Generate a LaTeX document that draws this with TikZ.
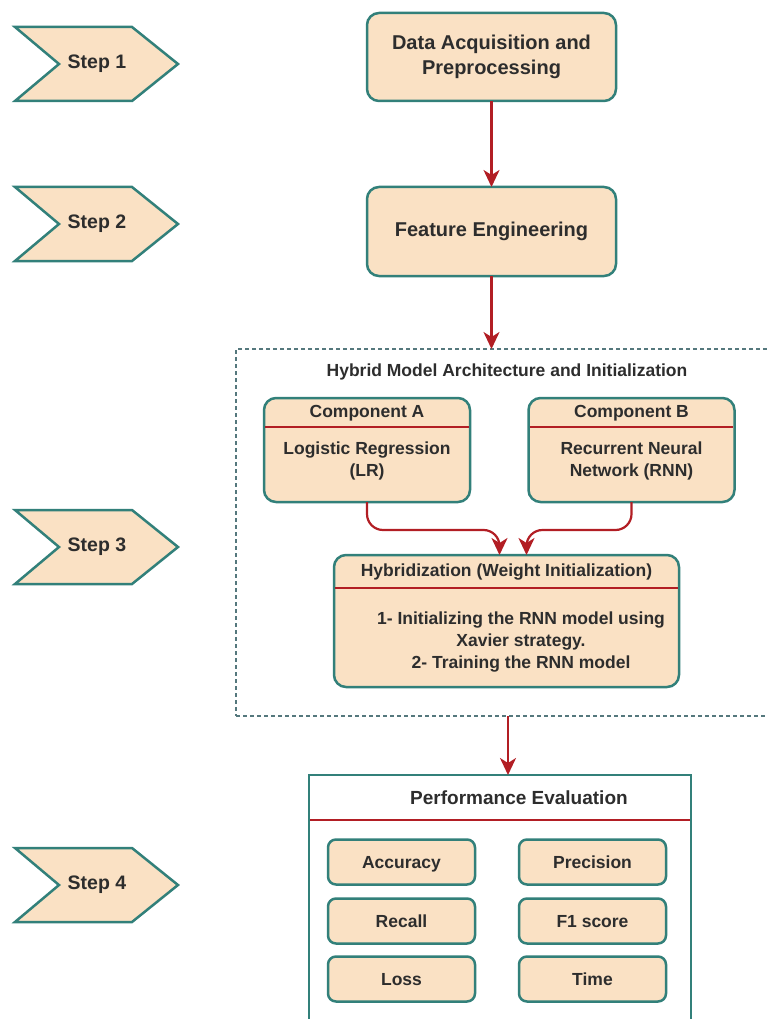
\documentclass[tikz,border=0pt]{standalone}
\usepackage{fontspec}
\setmainfont{Liberation Sans}
\usetikzlibrary{arrows.meta}

\definecolor{boxfill}{RGB}{250,225,196}
\definecolor{boxline}{RGB}{50,128,122}
\definecolor{arrowred}{RGB}{178,30,36}
\definecolor{txtgray}{RGB}{45,45,45}
\definecolor{zonegray}{RGB}{85,120,125}

\tikzset{
  stepbox/.style={draw=boxline, fill=boxfill, line width=2.5pt, line join=miter},
  steptext/.style={text=txtgray, font=\bfseries\fontsize{19.5}{23}\selectfont},
  mainbox/.style={draw=boxline, fill=boxfill, line width=2.5pt, outer sep=0pt,
    rounded corners=12pt, text=txtgray, align=center,
    font=\bfseries\fontsize{20}{25}\selectfont},
  lanetext/.style={text=txtgray, align=center, font=\bfseries\fontsize{17.5}{22}\selectfont},
  metricbox/.style={mainbox, rounded corners=8pt, minimum width=147, minimum height=45,
    text height=12.5pt, text depth=0pt, font=\bfseries\fontsize{17.5}{21}\selectfont},
  zonebox/.style={draw=zonegray, line width=1.1pt, dash pattern=on 4pt off 3pt, outer sep=0pt},
  perfbox/.style={draw=boxline, fill=white, line width=2.5pt, outer sep=0pt},
  flow/.style={draw=arrowred, line width=2.2pt, -{Stealth[length=17pt,width=16pt,inset=5pt]}},
  sep/.style={draw=arrowred, line width=2.2pt, shorten <=1.2pt, shorten >=1.2pt},
}

\begin{document}
\begin{tikzpicture}[x=1pt,y=-1pt]
  \useasboundingbox (0,0) rectangle (767,1019);
  \clip (0,0) rectangle (767,1019);

  % step chevrons on the left
  \foreach \yc/\lab in {64/1, 224/2, 547/3, 885/4}{
    \draw[stepbox] (15,\yc-37) -- (132,\yc-37) -- (178,\yc) -- (132,\yc+37)
      -- (15,\yc+37) -- (59,\yc) -- cycle;
    \node[steptext] (step\lab) at (97,\yc) {Step \lab};
  }

  % steps 1 and 2
  \node[mainbox, minimum width=249, minimum height=88] (data) at (491.5,57)
    {Data Acquisition and\\Preprocessing};
  \node[mainbox, minimum width=249, minimum height=89] (feat) at (491.5,231.5)
    {Feature Engineering};
  \draw[flow] (data) -- (feat);

  % step 3: hybrid model
  \node[zonebox, minimum width=544, minimum height=367] (zone) at (508,532.5) {};
  \draw[flow] (feat) -- (feat |- zone.north);
  \node[lanetext] (zonetitle) at (507,372) {Hybrid Model Architecture and Initialization};

  \foreach \nm/\xc/\head/\body in {compA/367/Component A/{Logistic Regression\\(LR)},
                                   compB/631.5/Component B/{Recurrent Neural\\Network (RNN)}}{
    \node[mainbox, minimum width=206, minimum height=104] (\nm) at (\xc,450) {};
    \draw[sep] (\nm.west |- 0,427) -- (\nm.east |- 0,427);
    \node[lanetext] (\nm-title) at (\xc,413) {\head};
    \node[lanetext] (\nm-body) at (\xc,461) {\body};
  }

  \node[mainbox, minimum width=345, minimum height=132] (hybrid) at (506.5,621) {};
  \draw[sep] (hybrid.west |- 0,588) -- (hybrid.east |- 0,588);
  \node[lanetext] (hybrid-title) at (506.5,572) {Hybridization (Weight Initialization)};
  \node[lanetext] (hybrid-body) at (521,642)
    {1- Initializing the RNN model using\\Xavier strategy.\\2- Training the RNN model};

  \coordinate (mergeA) at ([xshift=-7pt]hybrid.north);
  \coordinate (mergeB) at ([xshift=20pt]hybrid.north);
  \draw[flow, rounded corners=16pt] (compA.south) |- ([yshift=25pt]mergeA) -- (mergeA);
  \draw[flow, rounded corners=16pt] (compB.south) |- ([yshift=25pt]mergeB) -- (mergeB);

  % step 4: evaluation
  \node[perfbox, minimum width=382, minimum height=265] (perf) at (500,907.5) {};
  \draw[flow] (zone.south) -- (zone.south |- perf.north);
  \draw[sep] (perf.west |- 0,820) -- (perf.east |- 0,820);
  \node[lanetext, font=\bfseries\fontsize{19}{23}\selectfont] (perf-title) at (519,798)
    {Performance Evaluation};
  \foreach \nm/\xc/\yc/\lab in {acc/401.5/862/Accuracy, prec/592.5/862/Precision,
                                rec/401.5/921/Recall, fone/592.5/921/F1 score,
                                loss/401.5/979/Loss, time/592.5/979/Time}{
    \node[metricbox] (\nm) at (\xc,\yc) {\lab};
  }
\end{tikzpicture}
\end{document}
